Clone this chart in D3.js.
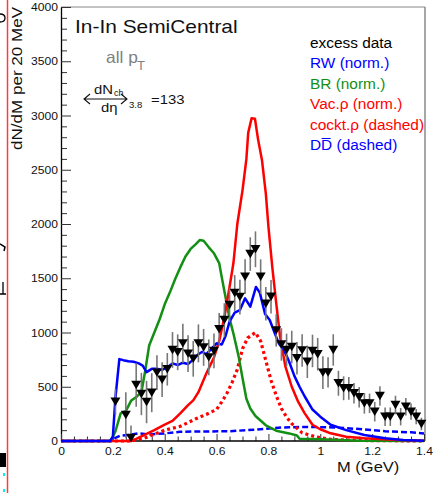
<!DOCTYPE html>
<html>
<head>
<meta charset="utf-8">
<script src="https://cdn.jsdelivr.net/npm/d3@7"></script>
<style>
html,body{margin:0;padding:0;background:#fff;}
svg{display:block;}
text{font-family:"Liberation Sans", Arial, Helvetica, sans-serif;}
</style>
</head>
<body>
<svg id="chart" width="433" height="493"></svg>
<script>
// ---------------- DATA ----------------
const massBins = [0.21,0.25,0.27,0.29,0.31,0.33,0.35,0.37,0.39,0.41,0.43,0.45,0.47,0.49,0.51,0.53,0.55,0.57,0.59,0.61,0.63,0.65,0.67,0.69,0.71,0.73,0.75,0.77,0.79,0.81,0.83,0.85,0.87,0.89,0.91,0.93,0.95,0.97,0.99,1.01,1.03,1.05,1.07,1.09,1.11,1.13,1.15,1.17,1.19,1.21,1.23,1.25,1.27,1.29,1.31,1.33,1.35,1.37,1.39];
const excessData = [362,240,28,516,433,359,445,630,565,661,839,818,900,805,758,900,863,771,830,1030,1115,1253,1364,1327,1514,1723,1767,1514,1265,1330,1020,890,839,866,762,835,730,830,800,630,632,839,532,486,486,440,403,347,347,270,415,224,224,332,224,316,270,224,157];
const excessErr = [120,210,115,200,195,195,180,160,160,150,165,165,180,170,165,175,170,165,160,150,155,160,165,160,160,155,165,160,155,155,150,150,150,150,150,150,150,150,150,150,140,145,115,110,105,95,95,95,90,90,90,85,85,85,80,80,75,70,57];

const rwCurve = [[0,0],[0.19,0],[0.20,40],[0.21,400],[0.225,755],[0.24,745],[0.26,735],[0.28,730],[0.30,715],[0.315,695],[0.33,635],[0.35,665],[0.37,665],[0.39,655],[0.41,680],[0.43,715],[0.45,700],[0.47,722],[0.49,710],[0.51,750],[0.53,800],[0.545,823],[0.56,800],[0.58,850],[0.60,900],[0.62,890],[0.635,970],[0.65,1100],[0.67,1183],[0.69,1207],[0.71,1315],[0.73,1238],[0.752,1420],[0.767,1365],[0.787,1170],[0.805,1115],[0.825,990],[0.84,900],[0.86,840],[0.88,730],[0.90,600],[0.92,500],[0.94,410],[0.97,290],[1.00,224],[1.04,150],[1.10,100],[1.17,55],[1.25,25],[1.32,10],[1.4,3]];
const brCurve = [[0,0],[0.19,0],[0.20,40],[0.21,90],[0.23,255],[0.25,275],[0.27,370],[0.29,405],[0.31,450],[0.325,650],[0.34,880],[0.36,1000],[0.38,1120],[0.40,1260],[0.42,1370],[0.44,1490],[0.46,1600],[0.48,1700],[0.50,1770],[0.52,1815],[0.535,1852],[0.55,1845],[0.57,1785],[0.59,1730],[0.61,1640],[0.62,1510],[0.635,1320],[0.65,1130],[0.665,990],[0.685,780],[0.70,580],[0.715,390],[0.73,300],[0.75,230],[0.79,145],[0.83,95],[0.88,70],[0.91,50],[0.92,20],[1.0,15],[1.15,3],[1.4,0]];
const vacRhoCurve = [[0,0],[0.27,0],[0.29,20],[0.32,55],[0.36,100],[0.40,150],[0.43,185],[0.46,255],[0.49,330],[0.51,375],[0.53,450],[0.56,620],[0.59,770],[0.61,920],[0.63,1140],[0.65,1420],[0.665,1640],[0.68,2000],[0.70,2310],[0.715,2600],[0.722,2840],[0.735,2975],[0.748,2970],[0.76,2780],[0.775,2590],[0.79,2280],[0.80,1975],[0.815,1600],[0.83,1270],[0.845,960],[0.865,690],[0.89,500],[0.915,360],[0.94,255],[0.97,150],[1.0,108],[1.04,71],[1.1,40],[1.17,25],[1.3,9],[1.4,3]];
const cocktRhoCurve = [[0,0],[0.27,0],[0.32,25],[0.40,100],[0.46,135],[0.52,205],[0.56,245],[0.60,290],[0.62,360],[0.64,440],[0.66,540],[0.68,660],[0.70,850],[0.72,950],[0.75,1000],[0.77,920],[0.79,740],[0.81,560],[0.83,420],[0.85,300],[0.87,220],[0.89,160],[0.93,75],[0.98,40],[1.04,15],[1.15,5],[1.4,0]];
const ddbarCurve = [[0,0],[0.19,0],[0.21,30],[0.23,50],[0.26,55],[0.30,70],[0.34,60],[0.40,70],[0.46,85],[0.55,88],[0.65,90],[0.75,105],[0.85,125],[0.95,130],[1.05,125],[1.15,110],[1.25,90],[1.35,80],[1.4,70]];

const yTicks = [0,500,1000,1500,2000,2500,3000,3500,4000];
const xTicks = [0,0.2,0.4,0.6,0.8,1.0,1.2,1.4];
const xTickLabels = ["0","0.2","0.4","0.6","0.8","1","1.2","1.4"];
const legendItems = [
  {label:"excess data", color:"#000"},
  {label:"RW (norm.)", color:"#0000ff"},
  {label:"BR (norm.)", color:"#138f13"},
  {label:"Vac.\u03c1 (norm.)", color:"#ff0000"},
  {label:"cockt.\u03c1 (dashed)", color:"#ff0000"},
  {label:"DD\u0305 (dashed)", color:"#0000ff"}
];

// ---------------- LAYOUT ----------------
const svg = d3.select("#chart");
const X0 = 61, X1 = 424, Y0 = 441, Y1 = 7;
const x = d3.scaleLinear().domain([0,1.4]).range([X0,X1]);
const y = d3.scaleLinear().domain([0,4000]).range([Y0,Y1]);
const STRETCH = 1.1;
function stretch(sel,f){ f=f||STRETCH; sel.each(function(){ const L=this.getComputedTextLength(); if(L>0){ this.setAttribute("textLength",L*f); this.setAttribute("lengthAdjust","spacingAndGlyphs"); } }); }

// left-edge crop artifacts (fragments of a neighbouring figure)
svg.append("line").attr("x1",7.5).attr("x2",7.5).attr("y1",0).attr("y2",493).attr("stroke","#ff3b3b").attr("stroke-width",1.5);
svg.append("rect").attr("x",0).attr("y",453).attr("width",6).attr("height",14).attr("fill","#000");
svg.append("path").attr("d","M0,14 Q5,14 5,18 Q5,22 0,22").attr("stroke","#000").attr("fill","none").attr("stroke-width",1.3);
svg.append("rect").attr("x",3).attr("y",473).attr("width",2).attr("height",3).attr("fill","#0ee");
svg.append("rect").attr("x",3).attr("y",489).attr("width",2).attr("height",3).attr("fill","#0ee");
svg.append("path").attr("d","M0,244 L5,247 L4,251").attr("stroke","#000").attr("fill","none").attr("stroke-width",1.5);
svg.append("path").attr("d","M3,282 L3,294 M0,294 L6,294").attr("stroke","#000").attr("fill","none").attr("stroke-width",1.3);

// frame
svg.append("line").attr("x1",X0).attr("x2",425).attr("y1",Y1).attr("y2",Y1).attr("stroke","#888").attr("stroke-width",1);
svg.append("line").attr("x1",425).attr("x2",425).attr("y1",Y1).attr("y2",Y0).attr("stroke","#888").attr("stroke-width",1.5);

// axes
const yMinor = d3.range(0,4001,100).filter(v=>v%500!==0);
svg.append("g").attr("transform",`translate(${X0},0)`)
  .call(d3.axisLeft(y).tickValues(yMinor).tickSize(-6).tickSizeOuter(0).tickFormat(""))
  .call(g=>g.select(".domain").remove())
  .call(g=>g.selectAll("line").attr("stroke","#333"));
const gy = svg.append("g").attr("transform",`translate(${X0},0)`)
  .call(d3.axisLeft(y).tickValues(yTicks).tickSize(-10).tickSizeOuter(0).tickPadding(3).tickFormat(d3.format("d")));
gy.select(".domain").attr("stroke","#000").attr("stroke-width",1.3);
gy.selectAll("line").attr("stroke","#333");
gy.selectAll("text").attr("font-size",11).attr("fill","#111").attr("font-family","Liberation Sans, Arial, sans-serif");

const xMinor = d3.range(0,1.401,0.05).filter(v=>Math.abs(v/0.2-Math.round(v/0.2))>1e-6);
svg.append("g").attr("transform",`translate(0,${Y0})`)
  .call(d3.axisBottom(x).tickValues(xMinor).tickSize(-4.5).tickSizeOuter(0).tickFormat(""))
  .call(g=>g.select(".domain").remove())
  .call(g=>g.selectAll("line").attr("stroke","#333"));
const gx = svg.append("g").attr("transform",`translate(0,${Y0})`)
  .call(d3.axisBottom(x).tickValues(xTicks).tickSize(-7).tickSizeOuter(0).tickPadding(6).tickFormat((d,i)=>xTickLabels[i]));
gx.select(".domain").attr("stroke","#000").attr("stroke-width",1.3).attr("d",`M${X0},0H425`);
gx.selectAll("line").attr("stroke","#333");
gx.selectAll("text").attr("font-size",11).attr("fill","#111").attr("font-family","Liberation Sans, Arial, sans-serif");
stretch(gy.selectAll("text"));
stretch(gx.selectAll("text"));

// axis titles
const yl = svg.append("text").attr("transform","translate(22,150) rotate(-90)").attr("font-size",15.5).attr("fill","#111").text("dN/dM per 20 MeV");
stretch(yl);
const xl = svg.append("text").attr("x",337).attr("y",472).attr("font-size",15).attr("fill","#111").text("M (GeV)");
stretch(xl);

// curves
const line = d3.line().x(d=>x(d[0])).y(d=>y(d[1]));
const plot = svg.append("g");
plot.append("path").datum(ddbarCurve).attr("d",line).attr("fill","none").attr("stroke","#0000ff").attr("stroke-width",2.5).attr("stroke-dasharray","6,3");
plot.append("path").datum(cocktRhoCurve).attr("d",line).attr("fill","none").attr("stroke","#ff0000").attr("stroke-width",3.2).attr("stroke-dasharray","3,3");
plot.append("path").datum(brCurve).attr("d",line).attr("fill","none").attr("stroke","#138f13").attr("stroke-width",2.5).attr("stroke-linejoin","round");
plot.append("path").datum(vacRhoCurve).attr("d",line).attr("fill","none").attr("stroke","#ff0000").attr("stroke-width",2.5).attr("stroke-linejoin","round");
plot.append("path").datum(rwCurve).attr("d",line).attr("fill","none").attr("stroke","#0000ff").attr("stroke-width",2.5).attr("stroke-linejoin","round");

// data with error bars
const pts = massBins.map((m,i)=>({m, v:excessData[i], e:excessErr[i]}));
const dg = svg.append("g");
dg.selectAll("line.err").data(pts).join("line").attr("class","err")
  .attr("x1",d=>x(d.m)).attr("x2",d=>x(d.m))
  .attr("y1",d=>y(Math.max(0,d.v-d.e))).attr("y2",d=>y(d.v+d.e))
  .attr("stroke","#777").attr("stroke-width",1.6);
dg.selectAll("path.pt").data(pts).join("path").attr("class","pt")
  .attr("transform",d=>`translate(${x(d.m)},${y(d.v)})`)
  .attr("d","M-5,-4.2L5,-4.2L0,4.2Z").attr("fill","#000");

// title & annotations
const t1 = svg.append("text").attr("x",75).attr("y",33).attr("font-size",19).attr("fill","#111").text("In-In SemiCentral");
stretch(t1);
const t2 = svg.append("text").attr("x",106).attr("y",63).attr("font-size",16.5).attr("fill","#808080").text("all p");
stretch(t2, 1.05);
svg.append("text").attr("x",137).attr("y",69.5).attr("font-size",13).attr("fill","#808080").text("T");

// <dNch/deta>_3.8 = 133
svg.append("path").attr("d","M90,94 L84,99 L90,104 M84,99 L127,99 M121,94 L127,99 L121,104").attr("stroke","#111").attr("stroke-width",1.1).attr("fill","none");
const f1 = svg.append("text").attr("x",94).attr("y",94).attr("font-size",13.5).attr("fill","#111").text("dN");
stretch(f1);
svg.append("text").attr("x",114).attr("y",96).attr("font-size",9).attr("fill","#111").text("ch");
const f2 = svg.append("text").attr("x",101).attr("y",112).attr("font-size",13.5).attr("fill","#111").text("d\u03b7");
stretch(f2);
svg.append("text").attr("x",129).attr("y",108).attr("font-size",9.5).attr("fill","#111").text("3.8");
const f3 = svg.append("text").attr("x",151).attr("y",104).attr("font-size",13.5).attr("fill","#111").text("=133");
stretch(f3);

// legend
const lg = svg.append("g");
lg.selectAll("text").data(legendItems).join("text")
  .attr("x",310).attr("y",(d,i)=>48+i*20.4).attr("font-size",14).attr("fill",d=>d.color)
  .text(d=>d.label);
stretch(lg.selectAll("text"));
</script>
</body>
</html>
